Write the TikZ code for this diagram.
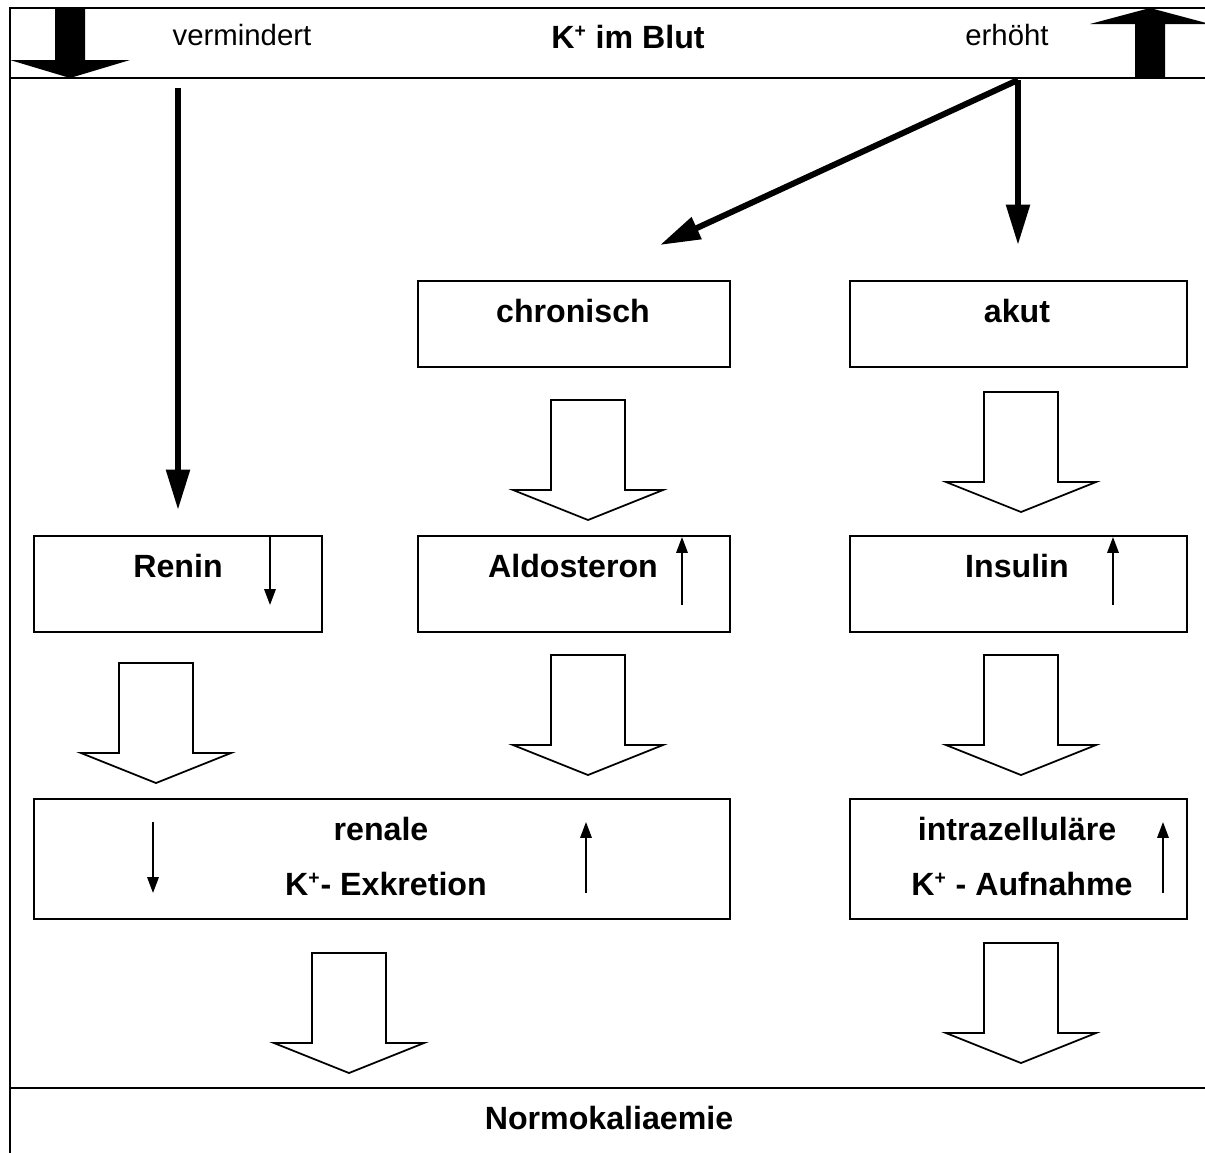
\documentclass[tikz,border=0pt]{standalone}
\usepackage{fontspec}
\setmainfont{Liberation Sans}
\usetikzlibrary{arrows.meta,positioning}
\tikzset{
  box/.style={draw,line width=1.1pt,anchor=north west,inner sep=0pt},
  lab/.style={font=\fontsize{18.3}{21}\selectfont\bfseries,inner sep=0pt},
  toplab/.style={font=\fontsize{16.7}{19}\selectfont,inner sep=0pt},
  frame/.style={line width=1.3pt},
  bigarr/.style={-{Triangle[length=23pt,width=13pt]},line width=3.4pt},
  smallarr/.style={-{Triangle[length=9pt,width=6.5pt]},line width=1pt},
  hollow/.style={draw,fill=white,line width=1pt,line join=miter},
}
\newcommand{\kplus}{K\textsuperscript{\fontsize{11}{11}\selectfont +}}
% hollow block arrow: centre x, top y
\newcommand{\hollowdown}[2]{%
  \draw[hollow] (#1-37,#2) -- (#1+37,#2) -- (#1+37,#2+90) -- (#1+75,#2+90)
    -- (#1,#2+120) -- (#1-75,#2+90) -- (#1-37,#2+90) -- cycle;}
\begin{document}
\begin{tikzpicture}[x=0.02cm,y=-0.02cm]
\useasboundingbox (0,0) rectangle (1205,1153);

% frame and header band
\draw[frame] (10,1153) -- (10,8) -- (1205,8);
\draw[frame] (10,78) -- (1205,78);
\draw[frame] (10,1088) -- (1205,1088);
\fill (55,8) -- (85,8) -- (85,60) -- (130,60) -- (70,78) -- (10,60) -- (55,60) -- cycle;
\fill (1135,78) -- (1165,78) -- (1165,24) -- (1210,24) -- (1150,8) -- (1090,24) -- (1135,24) -- cycle;
\node[toplab] (vermindert) at (242,35) {vermindert};
\node[lab] (blut) at (628,37) {\kplus{} im Blut};
\node[toplab] (erhoeht) at (1007,35) {erhöht};

% boxes
\node[box,minimum width=6.24cm,minimum height=1.72cm] (chronisch) at (417,280) {};
\node[box,minimum width=6.74cm,minimum height=1.72cm] (akut) at (849,280) {};
\node[box,minimum width=5.76cm,minimum height=1.92cm] (renin) at (33,535) {};
\node[box,minimum width=6.24cm,minimum height=1.92cm] (aldo) at (417,535) {};
\node[box,minimum width=6.74cm,minimum height=1.92cm] (insulin) at (849,535) {};
\node[box,minimum width=13.92cm,minimum height=2.4cm] (renale) at (33,798) {};
\node[box,minimum width=6.74cm,minimum height=2.4cm] (intra) at (849,798) {};

\node[lab] (tchron) at (573,311) {chronisch};
\node[lab] (takut) at (1017,311) {akut};
\node[lab] (trenin) at (178,566) {Renin};
\node[lab] (taldo) at (573,566) {Aldosteron};
\node[lab] (tinsulin) at (1017,566) {Insulin};
\node[lab] (trenale1) at (381,829) {renale};
\node[lab] (trenale2) at (386,884) {\kplus- Exkretion};
\node[lab] (tintra1) at (1017,829) {intrazelluläre};
\node[lab] (tintra2) at (1022,884) {\kplus{} - Aufnahme};
\node[lab] (normo) at (609,1118) {Normokaliaemie};

% small up/down marks
\draw[smallarr] (270,537) -- (270,605);
\draw[smallarr] (682,605) -- (682,537);
\draw[smallarr] (1113,605) -- (1113,537);
\draw[smallarr] (153,822) -- (153,893);
\draw[smallarr] (586,893) -- (586,822);
\draw[smallarr] (1163,893) -- (1163,822);

% thick arrows from the header
\coordinate (vstart) at (178,88);
\coordinate (vtip) at (178,510);
\coordinate (fork) at (1018,80);
\coordinate (chrtip) at (660,245);
\coordinate (akuttip) at (1018,245);
\draw[bigarr] (vstart) -- (vtip);
\draw[bigarr] (fork) -- (chrtip);
\draw[bigarr] (fork) -- (akuttip);

% hollow arrows
\hollowdown{588}{400}
\hollowdown{1021}{392}
\hollowdown{156}{663}
\hollowdown{588}{655}
\hollowdown{1021}{655}
\hollowdown{349}{953}
\hollowdown{1021}{943}
\end{tikzpicture}
\end{document}
